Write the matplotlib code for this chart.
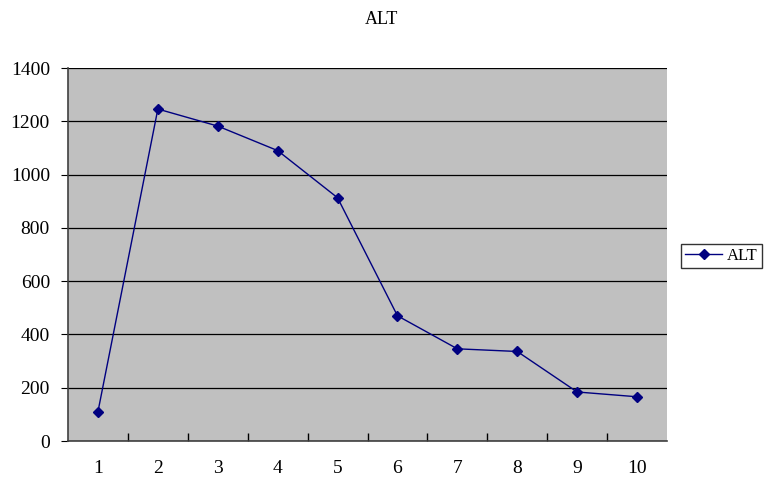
import matplotlib.pyplot as plt

categories = [1, 2, 3, 4, 5, 6, 7, 8, 9, 10]
alt_values = [110, 1246, 1182, 1090, 913, 470, 346, 336, 184, 166]
y_ticks = [0, 200, 400, 600, 800, 1000, 1200, 1400]

plt.rcParams['font.family'] = ['Liberation Serif', 'DejaVu Serif']

fig = plt.figure(figsize=(7.64, 4.82), dpi=100)
ax = fig.add_axes([68 / 764, 1 - 441 / 482, 599 / 764, 373 / 482])
ax.set_facecolor('#C0C0C0')

ax.plot(categories, alt_values, color='#000080', marker='D', markersize=5,
        linewidth=1, label='ALT', zorder=3)

ax.set_xlim(0.5, 10.5)
ax.set_ylim(0, 1400)
ax.set_yticks(y_ticks)
ax.yaxis.grid(True, color='black', linewidth=0.9)
ax.set_axisbelow(True)

# category labels centred, tick marks on category boundaries
ax.set_xticks(categories)
ax.set_xticklabels([str(c) for c in categories], fontsize=14)
ax.tick_params(axis='x', which='major', length=0, pad=14)
ax.set_xticks([c + 0.5 for c in categories[:-1]], minor=True)
ax.tick_params(axis='x', which='minor', direction='in', length=6, width=1)
ax.tick_params(axis='y', direction='out', length=5, labelsize=14, pad=8)

for side in ['top', 'right']:
    ax.spines[side].set_visible(False)
ax.spines['left'].set_color('#404040')
ax.spines['bottom'].set_color('#404040')
ax.spines['left'].set_linewidth(1.2)
ax.spines['bottom'].set_linewidth(1.2)

fig.text(382 / 764, 1 - 19 / 482, 'ALT', ha='center', va='center', fontsize=13)

leg = ax.legend(loc='center left', bbox_to_anchor=(681 / 599 - 68 / 599, (441 - 256) / 373),
                frameon=True, fancybox=False, edgecolor='black', fontsize=12,
                handlelength=2.2, borderpad=0.25, handletextpad=0.3, borderaxespad=0)
leg.get_frame().set_linewidth(1)

fig.savefig('out.png', dpi=100, facecolor='white')
